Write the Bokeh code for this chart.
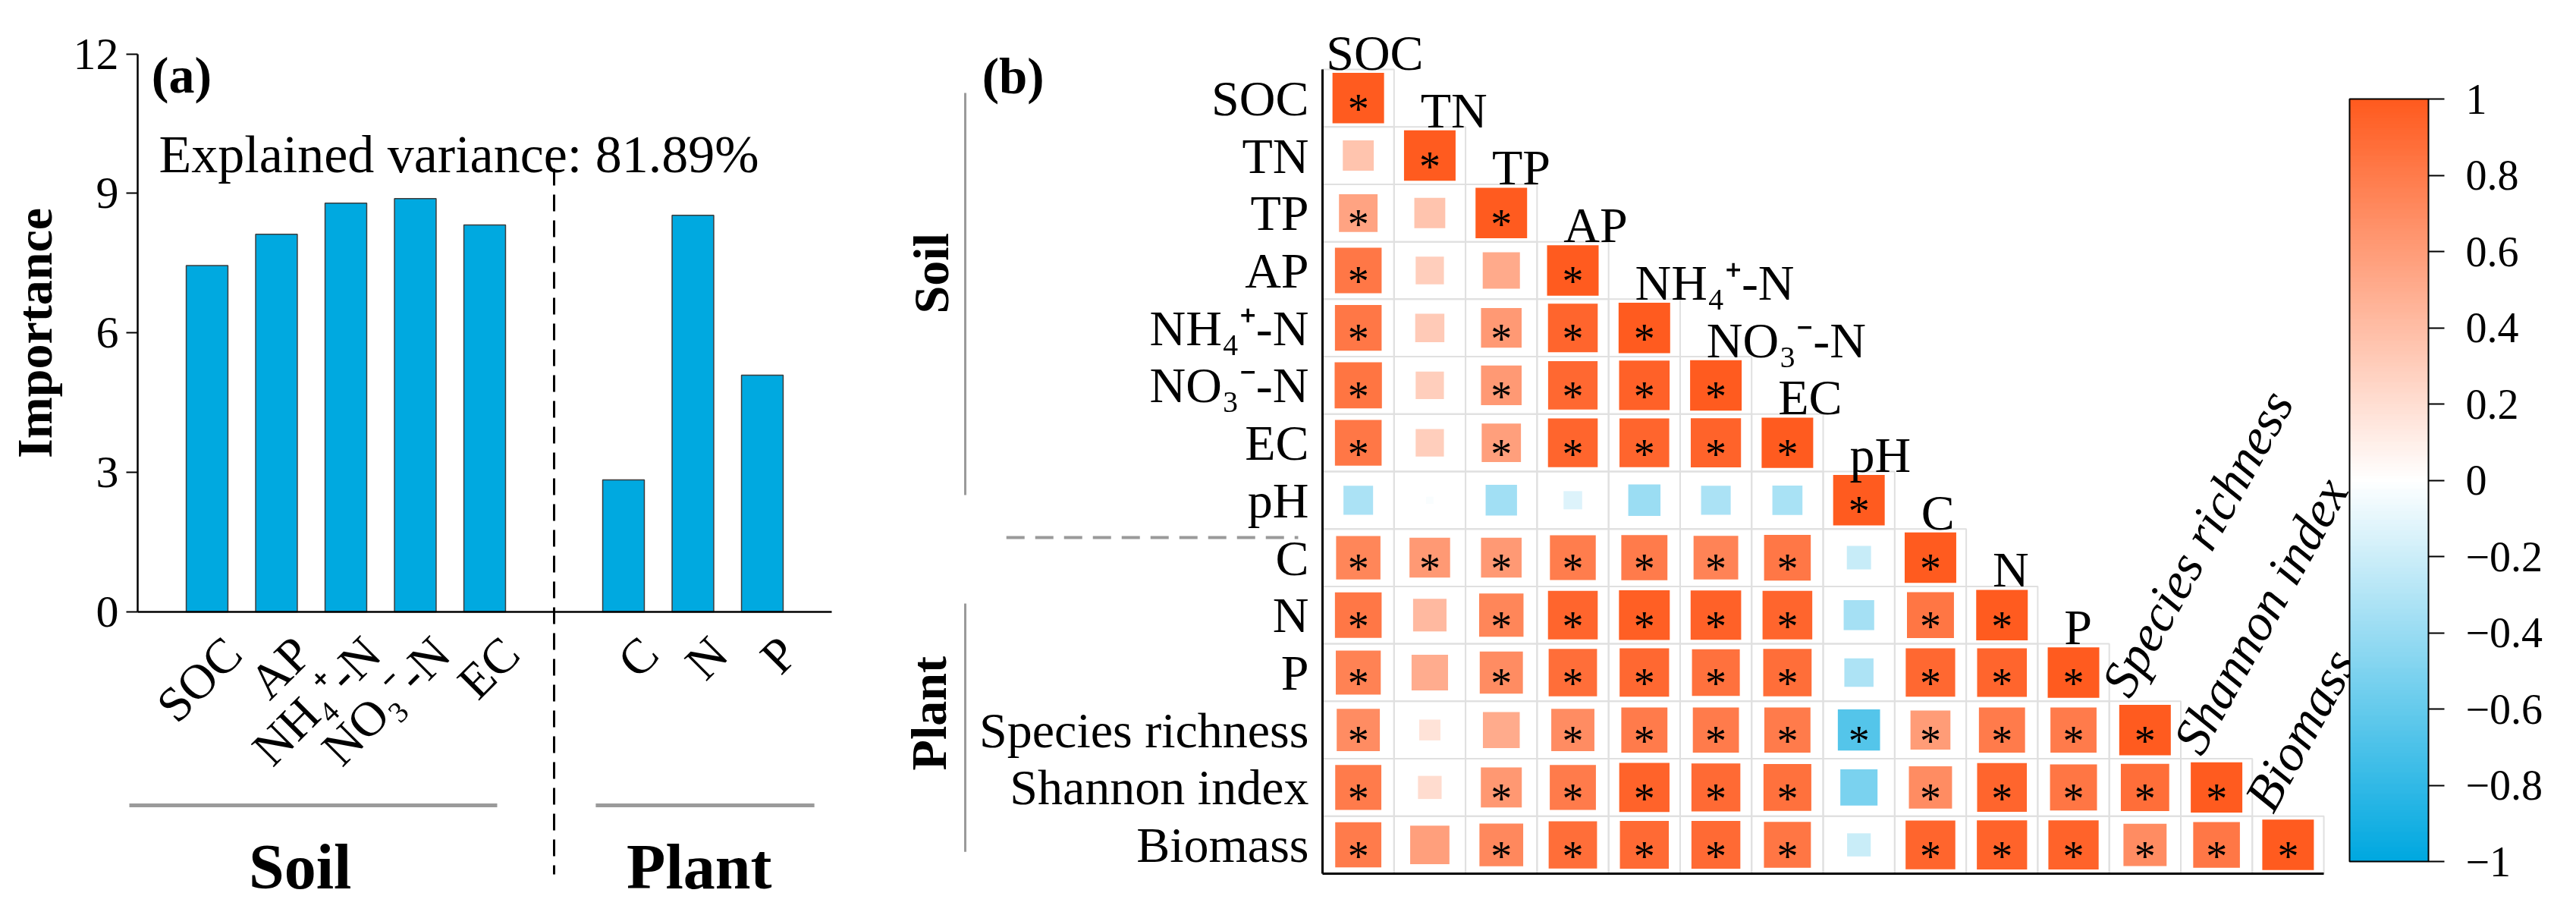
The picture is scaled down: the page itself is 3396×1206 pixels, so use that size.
import numpy as np
from bokeh.plotting import figure
from bokeh.models import Range1d, LinearAxis, FixedTicker, ColumnDataSource, LinearColorMapper
from bokeh.layouts import row
from bokeh.embed import file_html
from bokeh.resources import INLINE
from bokeh.core.properties import value

FONT = "Liberation Serif"

# ---------------- Panel (a) data ----------------
bar_labels = ["SOC", "AP", "NH₄⁺-N", "NO₃⁻-N", "EC", "C", "N", "P"]
bar_values = [7.45, 8.12, 8.79, 8.89, 8.32, 2.84, 8.53, 5.09]
group_names = ["Soil", "Plant"]
importance_ticks = [0, 3, 6, 9, 12]
explained_text = "Explained  variance: 81.89%"

# ---------------- Panel (b) data ----------------
var_names = ["SOC", "TN", "TP", "AP", "NH₄⁺-N", "NO₃⁻-N", "EC", "pH",
             "C", "N", "P", "Species richness", "Shannon index", "Biomass"]
corr_lower = [
    [1.00],
    [0.36, 1.00],
    [0.56, 0.36, 1.00],
    [0.82, 0.30, 0.52, 1.00],
    [0.82, 0.32, 0.62, 0.93, 1.00],
    [0.84, 0.30, 0.62, 0.92, 0.96, 1.00],
    [0.82, 0.30, 0.58, 0.93, 0.93, 0.95, 1.00],
    [-0.33, -0.02, -0.37, -0.13, -0.39, -0.33, -0.34, 1.00],
    [0.74, 0.62, 0.62, 0.79, 0.80, 0.75, 0.82, -0.22, 1.00],
    [0.82, 0.42, 0.74, 0.93, 0.97, 0.96, 0.93, -0.35, 0.83, 1.00],
    [0.76, 0.50, 0.70, 0.88, 0.92, 0.86, 0.88, -0.32, 0.92, 0.93, 1.00],
    [0.70, 0.17, 0.51, 0.70, 0.80, 0.80, 0.80, -0.67, 0.60, 0.80, 0.80, 1.00],
    [0.80, 0.21, 0.63, 0.80, 0.95, 0.90, 0.86, -0.52, 0.70, 0.93, 0.83, 0.88, 1.00],
    [0.80, 0.58, 0.72, 0.88, 0.90, 0.90, 0.83, -0.21, 0.93, 0.95, 0.95, 0.70, 0.82, 1.00],
]
sig_lower = [
    [1],
    [0, 1],
    [1, 0, 1],
    [1, 0, 0, 1],
    [1, 0, 1, 1, 1],
    [1, 0, 1, 1, 1, 1],
    [1, 0, 1, 1, 1, 1, 1],
    [0, 0, 0, 0, 0, 0, 0, 1],
    [1, 1, 1, 1, 1, 1, 1, 0, 1],
    [1, 0, 1, 1, 1, 1, 1, 0, 1, 1],
    [1, 0, 1, 1, 1, 1, 1, 0, 1, 1, 1],
    [1, 0, 0, 1, 1, 1, 1, 1, 1, 1, 1, 1],
    [1, 0, 1, 1, 1, 1, 1, 0, 1, 1, 1, 1, 1],
    [1, 0, 1, 1, 1, 1, 1, 0, 1, 1, 1, 1, 1, 1],
]
cbar_ticks = [-1.0, -0.8, -0.6, -0.4, -0.2, 0.0, 0.2, 0.4, 0.6, 0.8, 1.0]
cbar_labels = ["−1", "−0.8", "−0.6", "−0.4", "−0.2", "0", "0.2", "0.4", "0.6", "0.8", "1"]

# ---------------- styles ----------------
BAR_COLOR = "#00A9E0"
POS_COLOR = (255, 91, 31)
NEG_COLOR = (0, 168, 224)
GRAY = "#9a9a9a"


def hexc(c):
    return "#%02x%02x%02x" % tuple(int(round(v)) for v in c)


palette = []
for t in np.linspace(-1, 1, 255):
    end = NEG_COLOR if t < 0 else POS_COLOR
    a = abs(t)
    palette.append(hexc([255 * (1 - a) + e * a for e in end]))
mapper = LinearColorMapper(palette=palette, low=-1, high=1)

H = 1190

# ================= Panel (a) =================
WA = 1182
SLOT = 91.5
UY = 61.29
xa0 = -1 - 181 / SLOT
ya_top = (814 - 8) / UY
pA = figure(width=WA, height=H, x_range=Range1d(xa0, xa0 + WA / SLOT),
            y_range=Range1d(ya_top - H / UY, ya_top),
            x_axis_location=None, y_axis_location=None,
            toolbar_location=None, output_backend="svg", min_border=0,
            outline_line_color=None, background_fill_color="white",
            border_fill_color="white")
pA.grid.visible = False

bar_x = [i if i < 5 else i + 1 for i in range(len(bar_values))]
pA.vbar(x=bar_x, top=bar_values, bottom=0, width=0.6, fill_color=BAR_COLOR,
        line_color="#3c3c3c", line_width=1.5)

yax = LinearAxis(fixed_location=-1, bounds=(0, 12), ticker=FixedTicker(ticks=importance_ticks),
                 axis_label="Importance", axis_label_text_font=FONT,
                 axis_label_text_font_size="66px", axis_label_text_font_style="bold",
                 axis_label_text_color="black",
                 axis_label_standoff=12, major_label_text_font=FONT,
                 major_label_text_font_size="60px", major_label_standoff=10,
                 major_label_text_color="black",
                 major_tick_out=15, major_tick_in=0, major_tick_line_width=2,
                 axis_line_width=2.5, minor_tick_line_color=None)
pA.add_layout(yax, "left")

LABEL_SHIFT = 0.375
lab_ticks = [x + LABEL_SHIFT for x in bar_x]
xax = LinearAxis(fixed_location=0, bounds=(-1, 9), ticker=FixedTicker(ticks=lab_ticks),
                 major_label_overrides={t: l for t, l in zip(lab_ticks, bar_labels)},
                 major_label_orientation=np.pi / 4, major_label_text_font=FONT,
                 major_label_text_font_size="65px", major_label_standoff=38,
                 major_label_text_color="black",
                 major_tick_line_color=None, minor_tick_line_color=None,
                 axis_line_width=2.5)
pA.add_layout(xax, "below")

pA.text(x=[-0.80], y=[11.54], text=["(a)"], text_font=value(FONT), text_font_style="bold",
        text_font_size="68px", text_baseline="alphabetic", text_align="left")
pA.text(x=[-0.694], y=[9.84], text=[explained_text], text_font=value(FONT),
        text_font_size="70px", text_baseline="alphabetic", text_align="left")
pA.segment(x0=[5], y0=[9.53], x1=[5], y1=[-5.645], line_color="black", line_width=3,
           line_dash="22 12")
pA.segment(x0=[-1.12, 5.60], y0=[-4.16, -4.16], x1=[4.18, 8.75], y1=[-4.16, -4.16],
           line_color=GRAY, line_width=5)
pA.text(x=[1.34, 7.09], y=[-5.48, -5.48], text=group_names, text_font=value(FONT),
        text_font_style="bold", text_font_size="84px", text_baseline="alphabetic",
        text_align="center")

# ================= Panel (b) =================
WB = 3380 - WA
CW = 94.29
CH = 75.71
xb0 = (1190 - 1751) / CW
yb_top = (8 - 99) / CH
yb_bot = yb_top + H / CH
cb_top_v = 1 + (138 - 8) / 502.5
cb_bot_v = cb_top_v - H / 502.5
pB = figure(width=WB, height=H, x_range=Range1d(xb0, xb0 + WB / CW),
            y_range=Range1d(yb_bot, yb_top),
            x_axis_location=None, y_axis_location=None,
            toolbar_location=None, output_backend="svg", min_border=0,
            outline_line_color=None, background_fill_color="white",
            border_fill_color="white")
pB.grid.visible = False
pB.extra_y_ranges = {"cb": Range1d(cb_bot_v, cb_top_v)}

n = len(var_names)
cx, cy, rr, ww, hh = [], [], [], [], []
sx, sy = [], []
for i, rowv in enumerate(corr_lower):
    for j, r in enumerate(rowv):
        cx.append(j + 0.5)
        cy.append(i + 0.5)
        rr.append(r)
        ww.append(0.721 * np.sqrt(abs(r)))
        hh.append(0.878 * np.sqrt(abs(r)))
        if sig_lower[i][j]:
            sx.append(j + 0.5)
            sy.append(i + 0.5)
src = ColumnDataSource(dict(x=cx, y=cy, r=rr, w=ww, h=hh))
pB.rect(x="x", y="y", width=1, height=1, source=src, fill_color=None,
        line_color="#e0e0e0", line_width=2)
pB.rect(x="x", y="y", width="w", height="h", source=src,
        fill_color={"field": "r", "transform": mapper}, line_color=None)
pB.text(x=sx, y=sy, text=["*"] * len(sx), text_font=value(FONT), text_font_size="56px",
        text_align="center", text_baseline="alphabetic", y_offset=15)

row_ticks = [i + 0.5 for i in range(n)]
lax = LinearAxis(fixed_location=0, bounds=(0, n), ticker=FixedTicker(ticks=row_ticks),
                 major_label_overrides={t: l for t, l in zip(row_ticks, var_names)},
                 major_label_text_font=FONT, major_label_text_font_size="66px",
                 major_label_text_color="black",
                 major_label_standoff=12, major_tick_line_color=None,
                 minor_tick_line_color=None, axis_line_width=3)
pB.add_layout(lax, "left")
bax = LinearAxis(fixed_location=n, bounds=(0, n), ticker=FixedTicker(ticks=[]),
                 major_label_text_font_size="0px", major_tick_line_color=None,
                 minor_tick_line_color=None, axis_line_width=3)
pB.add_layout(bax, "below")

# diagonal labels
tx, ty, tt = [], [], []
for k in range(11):
    tx.append(0.05 if k == 0 else k + 0.37)
    ty.append(k - 0.29)
    tt.append(var_names[k])
pB.text(x=tx, y=ty, text=tt, text_font=value(FONT), text_font_size="66px",
        text_align="left", text_baseline="alphabetic")
rk = list(range(11, n))
pB.text(x=[k + 0.08 for k in rk], y=[k - 0.17 for k in rk], text=[var_names[k] for k in rk],
        text_font=value(FONT), text_font_size="68px", text_font_style="italic",
        text_align="left", text_baseline="alphabetic", angle=np.deg2rad(61))

# group brackets
pB.segment(x0=[-4.995, -4.995], y0=[0.41, 9.30], x1=[-4.995, -4.995], y1=[7.41, 13.62],
           line_color=GRAY, line_width=3)
pB.segment(x0=[-4.42], y0=[8.15], x1=[-0.34], y1=[8.15], line_color=GRAY, line_width=4,
           line_dash="24 14")
pB.text(x=[-5.47, -5.50], y=[3.55, 11.21], text=group_names, text_font=value(FONT),
        text_font_style="bold", text_font_size="66px", text_align="center",
        text_baseline="middle", angle=np.pi / 2)
pB.text(x=[-4.76], y=[0.106], text=["(b)"], text_font=value(FONT), text_font_style="bold",
        text_font_size="67px", text_align="left", text_baseline="alphabetic")

# colour bar
cb_x0 = (3105 - 1751) / CW
cb_x1 = (3209 - 1751) / CW
grad = np.linspace(-1, 1, 400).reshape(-1, 1)
pB.image(image=[grad], x=cb_x0, y=-1, dw=cb_x1 - cb_x0, dh=2, color_mapper=mapper,
         y_range_name="cb")
pB.quad(left=[cb_x0], right=[cb_x1], bottom=[-1], top=[1], fill_color=None,
        line_color="black", line_width=2, y_range_name="cb")
cax = LinearAxis(y_range_name="cb", fixed_location=cb_x1, bounds=(-1, 1),
                 ticker=FixedTicker(ticks=cbar_ticks),
                 major_label_overrides={t: l for t, l in zip(cbar_ticks, cbar_labels)},
                 major_label_text_font=FONT, major_label_text_font_size="56px",
                 major_label_text_color="black",
                 major_label_standoff=28, major_tick_out=21, major_tick_in=0,
                 major_tick_line_width=2, axis_line_color=None, minor_tick_line_color=None)
pB.add_layout(cax, "right")

layout = row(pA, pB)
open("out.html", "w").write(file_html(layout, INLINE))
